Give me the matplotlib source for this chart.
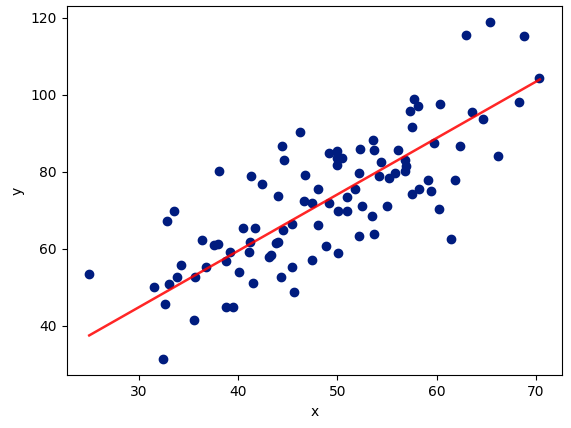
import matplotlib
matplotlib.use("Agg")
import matplotlib.pyplot as plt

# points
x_vals = [25.0, 38.07, 41.26, 42.36, 44.04, 33.55, 32.8, 40.5, 41.66, 36.4,
          37.6, 38.0, 41.2, 41.1, 39.2, 38.8, 43.8, 44.0, 43.1, 43.3,
          34.2, 33.8, 31.5, 33.05, 35.7, 36.8, 40.1, 41.46, 44.3, 32.6,
          38.8, 39.5, 35.6, 32.4, 44.4, 46.2, 44.6, 46.7, 46.6, 47.4,
          48.1, 49.2, 50.0, 49.97, 50.5, 50.0, 49.2, 50.1, 51.0, 51.0,
          51.8, 52.2, 52.3, 53.6, 53.65, 54.35, 54.2, 55.2, 55.8, 56.1,
          56.8, 56.9, 56.8, 57.5, 57.3, 58.1, 57.7, 60.3, 59.7, 62.4,
          59.1, 58.2, 57.5, 59.4, 61.9, 60.25, 61.5, 55.0, 52.5, 53.45,
          52.2, 53.65, 48.1, 45.4, 44.5, 48.9, 50.1, 47.4, 45.4, 45.6,
          65.4, 63.0, 68.8, 70.3, 68.3, 63.6, 64.7, 66.2]
y_vals = [53.4, 80.1, 79.0, 76.8, 73.6, 69.9, 67.2, 65.5, 65.3, 62.3,
          60.9, 61.3, 61.9, 59.3, 59.2, 56.8, 61.5, 61.9, 57.8, 58.4,
          55.7, 52.6, 50.2, 50.8, 52.6, 55.2, 54.1, 51.2, 52.6, 45.6,
          44.8, 44.8, 41.4, 31.5, 86.8, 90.3, 83.0, 79.1, 72.5, 71.8,
          75.5, 84.9, 85.5, 83.6, 83.5, 81.7, 72.0, 69.9, 69.8, 73.4,
          75.5, 79.7, 86.0, 88.2, 85.7, 82.5, 79.0, 78.4, 79.8, 85.6,
          83.1, 81.6, 80.3, 91.6, 95.7, 97.1, 98.9, 97.6, 87.5, 86.7,
          77.8, 75.5, 74.2, 74.9, 77.8, 70.4, 62.5, 71.25, 71.25, 68.6,
          63.4, 63.8, 66.3, 66.5, 64.9, 60.7, 59.0, 57.2, 55.2, 48.8,
          118.8, 115.5, 115.2, 104.5, 98.1, 95.5, 93.7, 84.1]

# fitted line at its two ends
fit_x = [25.0, 70.4]
fit_y = [37.5, 104.0]

fig = plt.figure(figsize=(5.71, 4.28), dpi=100)
ax = fig.add_axes([0.1168, 0.1231, 0.868, 0.8636])
ax.scatter(x_vals, y_vals, color="#001c7f")
ax.plot(fit_x, fit_y, color="red", alpha=0.85, lw=1.8)
ax.set_xlabel("x")
ax.set_ylabel("y")
# title sits above the cropped top edge, as in the reference
ax.set_title("Linear Regression using Gradient Descent", pad=7.5)
fig.savefig("out.png", dpi=100)
